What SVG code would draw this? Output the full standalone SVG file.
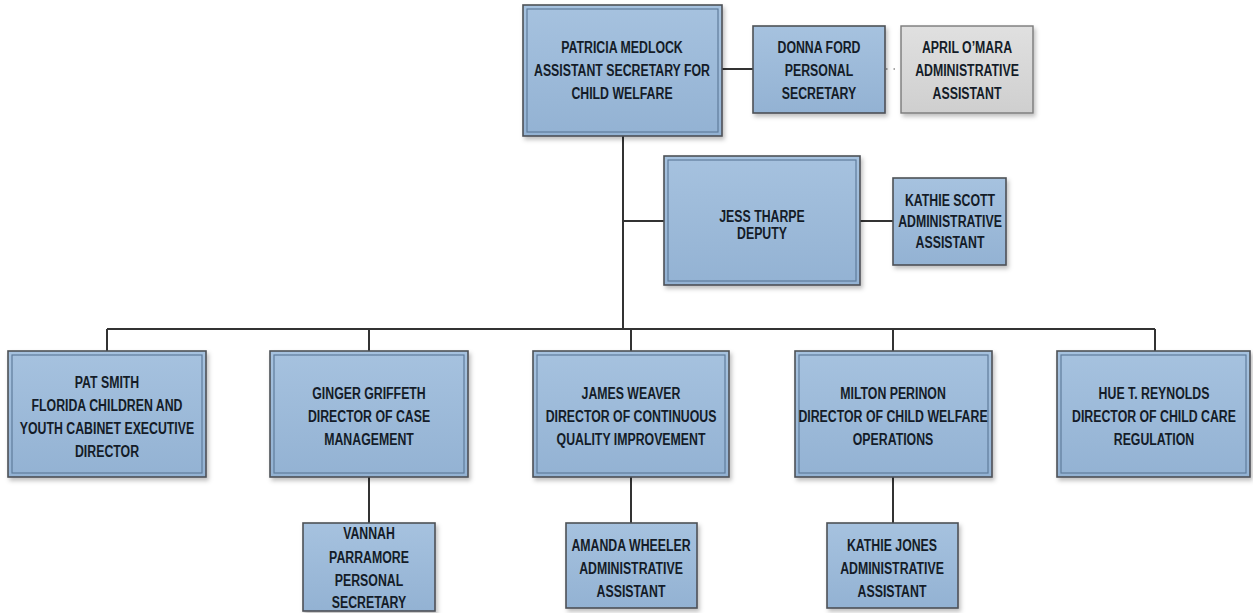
<svg xmlns="http://www.w3.org/2000/svg" width="1253" height="613" viewBox="0 0 1253 613">
<defs>
<linearGradient id="blue" x1="0" y1="0" x2="0" y2="1">
<stop offset="0" stop-color="#a6c2df"/>
<stop offset="1" stop-color="#93b2d3"/>
</linearGradient>
<linearGradient id="gray" x1="0" y1="0" x2="0" y2="1">
<stop offset="0" stop-color="#e0e0e0"/>
<stop offset="1" stop-color="#cfcfcf"/>
</linearGradient>
<filter id="sh" x="-10%" y="-10%" width="125%" height="125%">
<feDropShadow dx="2" dy="3" stdDeviation="2" flood-color="#000" flood-opacity="0.25"/>
</filter>
<style>
.box{fill:url(#blue);stroke:#4d5156;stroke-width:1.6;filter:url(#sh)}
.inner{fill:none;stroke:#5f7c9c;stroke-width:1.2}
.gbox{fill:url(#gray);stroke:#7a7a7a;stroke-width:1.4;filter:url(#sh)}
.ln{stroke:#333;stroke-width:2;fill:none}
.dot{stroke:#888;stroke-width:1.5;stroke-dasharray:1.5 6;fill:none}
text{font-family:"Liberation Sans",Arial,sans-serif;font-weight:bold;font-size:16px;fill:#141c28;text-anchor:middle}
</style>
</defs>
<g id="connectors">
<path class="ln" d="M722 69H753"/>
<path class="dot" d="M886 69H901"/>
<path class="ln" d="M623 136V329"/>
<path class="ln" d="M623 221H664"/>
<path class="ln" d="M860 221H893"/>
<path class="ln" d="M107 329H1155"/>
<path class="ln" d="M107 329V351M369 329V351M631 329V351M893 329V351M1155 329V351"/>
<path class="ln" d="M369 477V523M631 477V523M893 477V523"/>
</g>
<g id="patricia">
<rect class="box" x="523" y="5" width="199" height="131"/>
<rect class="inner" x="527" y="9" width="191" height="123"/>
<text transform="matrix(0.77 0 0 1 622 53)">PATRICIA MEDLOCK</text>
<text transform="matrix(0.77 0 0 1 622 76)">ASSISTANT SECRETARY FOR</text>
<text transform="matrix(0.77 0 0 1 622 99)">CHILD WELFARE</text>
</g>
<g id="donna">
<rect class="box" x="753" y="26" width="132" height="87"/>
<text transform="matrix(0.77 0 0 1 819 53)">DONNA FORD</text>
<text transform="matrix(0.77 0 0 1 819 76)">PERSONAL</text>
<text transform="matrix(0.77 0 0 1 819 99)">SECRETARY</text>
</g>
<g id="april">
<rect class="gbox" x="901" y="26" width="132" height="87"/>
<text transform="matrix(0.77 0 0 1 967 53)">APRIL O’MARA</text>
<text transform="matrix(0.77 0 0 1 967 76)">ADMINISTRATIVE</text>
<text transform="matrix(0.77 0 0 1 967 99)">ASSISTANT</text>
</g>
<g id="jess">
<rect class="box" x="664" y="156" width="196" height="129"/>
<rect class="inner" x="668" y="160" width="188" height="121"/>
<text transform="matrix(0.77 0 0 1 762 222)">JESS THARPE</text>
<text transform="matrix(0.77 0 0 1 762 239)">DEPUTY</text>
</g>
<g id="kathie-scott">
<rect class="box" x="893" y="178" width="113" height="87"/>
<text transform="matrix(0.77 0 0 1 950 206)">KATHIE SCOTT</text>
<text transform="matrix(0.77 0 0 1 950 227)">ADMINISTRATIVE</text>
<text transform="matrix(0.77 0 0 1 950 248)">ASSISTANT</text>
</g>
<g id="pat-smith">
<rect class="box" x="8" y="351" width="198" height="126"/>
<rect class="inner" x="12" y="355" width="190" height="118"/>
<text transform="matrix(0.77 0 0 1 107 388)">PAT SMITH</text>
<text transform="matrix(0.77 0 0 1 107 411)">FLORIDA CHILDREN AND</text>
<text transform="matrix(0.77 0 0 1 107 434)">YOUTH CABINET EXECUTIVE</text>
<text transform="matrix(0.77 0 0 1 107 457)">DIRECTOR</text>
</g>
<g id="ginger">
<rect class="box" x="270" y="351" width="198" height="126"/>
<rect class="inner" x="274" y="355" width="190" height="118"/>
<text transform="matrix(0.77 0 0 1 369 399)">GINGER GRIFFETH</text>
<text transform="matrix(0.77 0 0 1 369 422)">DIRECTOR OF CASE</text>
<text transform="matrix(0.77 0 0 1 369 445)">MANAGEMENT</text>
</g>
<g id="james">
<rect class="box" x="533" y="351" width="196" height="126"/>
<rect class="inner" x="537" y="355" width="188" height="118"/>
<text transform="matrix(0.77 0 0 1 631 399)">JAMES WEAVER</text>
<text transform="matrix(0.77 0 0 1 631 422)">DIRECTOR OF CONTINUOUS</text>
<text transform="matrix(0.77 0 0 1 631 445)">QUALITY IMPROVEMENT</text>
</g>
<g id="milton">
<rect class="box" x="795" y="351" width="197" height="126"/>
<rect class="inner" x="799" y="355" width="189" height="118"/>
<text transform="matrix(0.77 0 0 1 893 399)">MILTON PERINON</text>
<text transform="matrix(0.77 0 0 1 893 422)">DIRECTOR OF CHILD WELFARE</text>
<text transform="matrix(0.77 0 0 1 893 445)">OPERATIONS</text>
</g>
<g id="hue">
<rect class="box" x="1057" y="351" width="193" height="126"/>
<rect class="inner" x="1061" y="355" width="185" height="118"/>
<text transform="matrix(0.77 0 0 1 1154 399)">HUE T. REYNOLDS</text>
<text transform="matrix(0.77 0 0 1 1154 422)">DIRECTOR OF CHILD CARE</text>
<text transform="matrix(0.77 0 0 1 1154 445)">REGULATION</text>
</g>
<g id="vannah">
<rect class="box" x="303" y="523" width="132" height="88"/>
<text transform="matrix(0.77 0 0 1 369 539)">VANNAH</text>
<text transform="matrix(0.77 0 0 1 369 563)">PARRAMORE</text>
<text transform="matrix(0.77 0 0 1 369 586)">PERSONAL</text>
<text transform="matrix(0.77 0 0 1 369 608)">SECRETARY</text>
</g>
<g id="amanda">
<rect class="box" x="566" y="523" width="131" height="85"/>
<text transform="matrix(0.77 0 0 1 631 551)">AMANDA WHEELER</text>
<text transform="matrix(0.77 0 0 1 631 574)">ADMINISTRATIVE</text>
<text transform="matrix(0.77 0 0 1 631 597)">ASSISTANT</text>
</g>
<g id="kathie-jones">
<rect class="box" x="827" y="523" width="131" height="85"/>
<text transform="matrix(0.77 0 0 1 892 551)">KATHIE JONES</text>
<text transform="matrix(0.77 0 0 1 892 574)">ADMINISTRATIVE</text>
<text transform="matrix(0.77 0 0 1 892 597)">ASSISTANT</text>
</g>
</svg>
